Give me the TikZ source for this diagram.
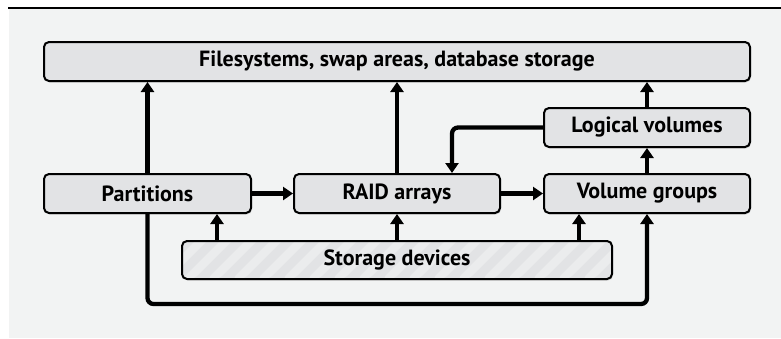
\documentclass[tikz,border=0pt]{standalone}
\usepackage{fontspec}
\setmainfont{PT Sans}
\usetikzlibrary{arrows.meta,positioning,shadows}
\definecolor{lvmbg}{RGB}{242,243,243}
\definecolor{lvmbox}{RGB}{226,227,229}
\definecolor{lvmstripe}{RGB}{235,236,237}
\tikzset{
  layerbox/.style={draw=black, line width=2pt, fill=lvmbox, rounded corners=5pt, minimum height=39pt, font=\fontsize{22}{26}\selectfont\bfseries, drop shadow={shadow xshift=1pt, shadow yshift=-1.5pt, opacity=0.25}},
  striped/.style={path picture={\foreach \k in {-3,...,18}{\fill[lvmstripe] ([xshift=\k*25pt]path picture bounding box.south west) -- ++(12pt,0pt) -- ++(45pt,45pt) -- ++(-12pt,0pt) -- cycle;}}},
  flow/.style={line width=4.3pt, -{Triangle[length=10pt,width=13pt]}, rounded corners=6pt},
}

\begin{document}
\begin{tikzpicture}[x=1pt, y=-1pt]
  \useasboundingbox (0,0) rectangle (781,338);
  \fill[lvmbg] (9,9.3) rectangle (781,338);
  \fill[black] (8,6.7) rectangle (781,9.3);

  \node[layerbox, minimum width=706pt] (fs) at (397,61.5) {Filesystems, swap areas, database storage};
  \node[layerbox, minimum width=206pt] (lv) at (647,127.5) {Logical volumes};
  \node[layerbox, minimum width=207pt] (part) at (147.5,193.5) {Partitions};
  \node[layerbox, minimum width=206pt] (raid) at (397,193.5) {RAID arrays};
  \node[layerbox, minimum width=206pt] (vg) at (647,193.5) {Volume groups};
  \node[layerbox, striped, minimum width=430pt, minimum height=38pt] (disk) at (397,260) {Storage devices};

  % upward into the top layer
  \draw[flow] (part.north) -- (part.north |- fs.south);
  \draw[flow] (raid.north) -- (raid.north |- fs.south);
  \draw[flow] (lv.north) -- (lv.north |- fs.south);
  \draw[flow] (vg.north) -- (lv.south);
  \draw[flow] (lv.west) -| ([xshift=55pt]raid.north);

  % middle row
  \draw[flow] (part.east) -- (raid.west);
  \draw[flow] (raid.east) -- (vg.west);

  % from the devices
  \draw[flow] ([xshift=-180pt]disk.north) -- ([xshift=-180pt]disk.north |- part.south);
  \draw[flow] (disk.north) -- (raid.south);
  \draw[flow] ([xshift=182pt]disk.north) -- ([xshift=182pt]disk.north |- vg.south);
  \draw[flow] (part.south) |- ([yshift=-90pt]vg.south) -- (vg.south);
\end{tikzpicture}
\end{document}
